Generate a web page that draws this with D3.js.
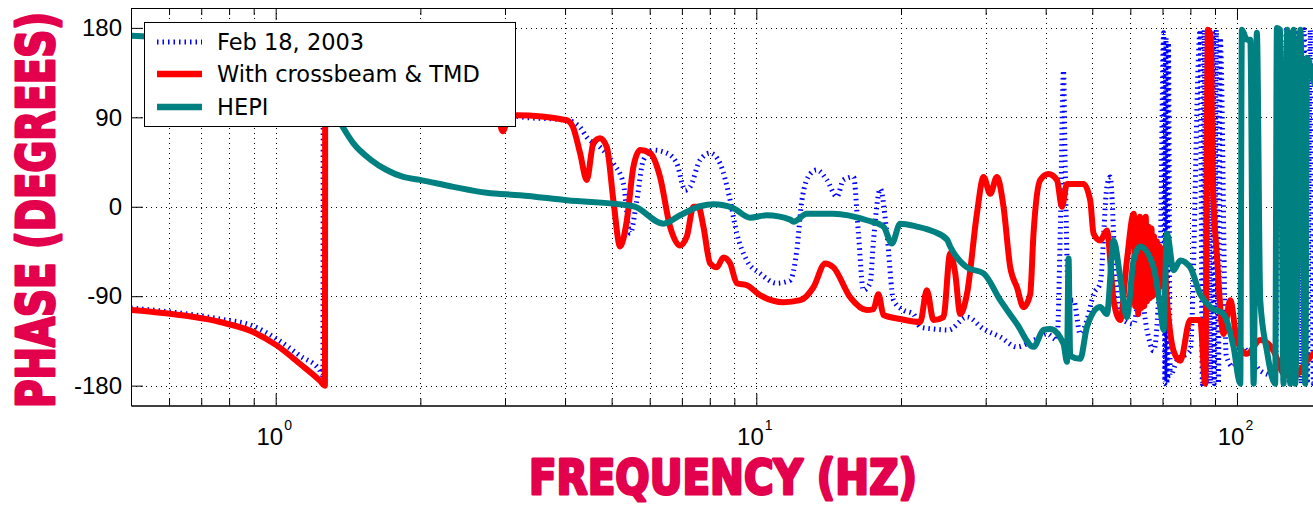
<!DOCTYPE html>
<html><head><meta charset="utf-8">
<script src="https://cdn.jsdelivr.net/npm/d3@7"></script>
<style>body{margin:0;background:#fff;} svg{display:block;}</style>
</head><body>
<svg id="chart" width="1313" height="505"></svg>
<script>
// ---- data: [frequency Hz, phase degrees] ----
const feb18 = [
[0.5,-102],[0.556,-104],[0.766,-113],[0.898,-120],[1.005,-133],[1.124,-150],[1.236,-165],[1.254,-170],[1.256,150],[1.5,135],[2.0,115],[2.5,100],[3.0,93],
[3.224,90.5],[4.033,87],[4.298,80],[4.438,70],[4.731,60],[5.043,43.5],[5.29,23],[5.463,-27],[5.641,6.5],[5.821,47],[6.107,57],[6.512,54],[6.832,43.5],
[7.111,16.6],[7.283,20],[7.638,47],[8.014,54],[8.406,43.5],[8.821,6.5],[9.108,-27],[9.555,-54],[10.18,-67],[11.03,-77],[11.76,-74],[12.14,-44],
[12.44,6.5],[12.94,33],[13.36,37],[14.02,27],[14.71,10],[15.18,27],[15.93,30],[16.31,-27],[16.70,-84],[17.25,-77],[17.53,-34],[18.11,18],
[18.69,-27],[19.29,-94],[20.24,-104],[21.23,-108],[21.93,-121],[23.37,-123],[25.11,-124],[27.43,-111],[29.70,-123],[32.17,-131],[34.85,-141],
[37.73,-134.5],[40.23,-128],[42.22,-134],[42.89,-27],[43.56,137],[43.92,40],[44.63,-94],[45.70,-94],[47.20,-128],[48.74,-114],[50.31,-88],
[51.94,-77],[53.63,20],[54.49,30],[55.81,-61],[57.17,-111],[60.94,-118],[62.92,-84],[64.97,-124],[67.06,-145],[69.25,-47],[70.37,175],
[70.8,-178],[71.2,170],[71.5,-178],[72.0,165],[72.64,-170],[75.02,-155],[79.93,-145],[83.85,178],[84.7,-178],[85.5,178],[86.3,-178],
[87.2,178],[88.0,-178],[88.9,178],[89.7,-178],[90.6,178],[91.5,-178],[92.3,170],[95.0,-150],[98.2,-161],[101.6,-140],[106.6,-150],
[111.8,-165],[120.1,-170],[123.1,178],[124.9,-178],[126.6,178],[128.5,-178],[130.3,178],[132.2,-178],[134.1,178],[136.1,-178],[138.0,178],
[140.1,-178],[142.1,178],[144.2,-178],[146.3,178],[148.4,-178],[150.5,178]
];
const withCrossbeam = [
[0.5,-104],[0.556,-106],[0.766,-116],[0.898,-126],[1.005,-139.5],[1.123,-158],[1.236,-175],[1.266,-180],[1.268,160],[1.5,140],[2.0,112],[2.5,98],
[2.9,88],[2.97,76],[3.05,90],[3.174,92],[4.033,87],[4.156,80],[4.298,54],[4.438,27],[4.581,64],[4.731,69],[4.886,60],[5.043,6],[5.207,-40],
[5.377,-14],[5.549,40],[5.731,57],[6.012,54],[6.306,30],[6.615,-20],[6.94,-39],[7.168,-30],[7.398,0],[7.577,0],[7.761,-20],[8.014,-57],
[8.275,-61],[8.541,-51],[8.821,-57],[9.108,-77],[9.555,-79],[10.18,-89],[11.39,-96],[12.34,-94],[13.15,-81],[13.91,-57],[14.47,-61],
[15.67,-91],[16.98,-104],[17.53,-103],[17.95,-88],[18.39,-109],[19.92,-113],[21.93,-116],[22.63,-84],[23.37,-114],[24.51,-111],[25.31,-47],
[25.93,-67],[26.56,-108],[27.43,-88],[28.77,-7],[29.70,30],[30.67,13],[31.66,30],[32.68,0],[33.75,-61],[34.85,-81],[35.97,-101],[37.14,-88],
[37.73,-27],[38.96,27],[40.54,33],[42.22,27],[43.24,0],[44.29,23],[47.96,23],[49.52,6],[50.31,-27],[51.94,-34],[53.63,-24],[55.37,-94],
[57.17,-114],[59.02,-54],[61.0,-7],[61.4,-100],[61.9,-12],[62.3,-108],[62.8,-10],[63.2,-102],[63.7,-12],[64.1,-100],[64.6,-10],[65.0,-95],
[65.5,-20],[65.9,-92],[66.4,-22],[66.8,-90],[67.3,-30],[67.7,-88],[68.2,-35],[68.6,-85],[69.1,-40],[69.6,-80],[70.3,-44],
[71.5,-94],[73.81,-145],[76.21,-155],[79.93,-114],[83.85,-114],[85.9,-178],[87.0,178],[88.2,172],[89.0,30],[90.87,-50],
[93.78,-128],[96.83,-94],[100,-134],[104.9,-148],[111.8,-134],[119.2,-145],[125.0,-168],[131.2,-171],[139.9,-155],[144.2,-148],[150,-145]
];
const hepi = [
[0.5,172],[0.7,168],[0.9,162],[1.1,150],[1.25,120],[1.38,80],[1.45,64],[1.58,47],[1.702,37],[1.843,30],[1.997,27],[2.342,20],[2.749,14],[3.224,11.6],
[4.033,6.5],[5.549,0.5],[6.407,-17],[6.94,-8.6],[7.638,0.5],[8.143,2.5],[8.961,-1.5],[9.707,-11],[10.51,-8.6],[11.76,-13],[11.95,-15],
[12.74,-7],[14.47,-7],[16.98,-13.6],[18.39,-20],[19.14,-37],[19.92,-17],[21.58,-20],[23.37,-25],[24.92,-33],[25.31,-40],[27.43,-61],
[29.70,-67],[32.17,-94],[34.85,-118],[37.73,-141],[39.58,-124],[40.88,-123],[43.56,-138],[44.29,-156],[44.63,-52],[44.98,-150],[47.20,-153],
[48.74,-121],[51.94,-101],[53.63,-108],[55.37,-34],[57.17,-71],[59.02,-111],[60.94,-54],[62.92,-40],[67.06,-61],[69.25,-101],[70.37,-124],
[71.50,-27],[73.81,-64],[76.21,-54],[79.93,-61],[83.85,-88],[88.0,-101],[93.78,-108],[98.38,-141],[101.6,-178],[102.4,178],[104.9,168],
[106.6,168],[108.3,-178],[110.0,175],[111.8,-94],[115.4,-145],[120.1,-178],[121.1,180],[123.1,178],[125.0,-178],[127.3,178],[129.1,-178],
[131.2,178],[132.2,-178],[135.5,178],[138.7,-178],[139.9,150],[144.2,127],[150.5,110]
];
const seriesNames = ["Feb 18, 2003", "With crossbeam & TMD", "HEPI"];
const yTicks = [-180, -90, 0, 90, 180];
const xMajorTicks = [1, 10, 100];
const xTickExponents = ["0", "1", "2"];
const xMinorTicks = [0.5,0.6,0.7,0.8,0.9,2,3,4,5,6,7,8,9,20,30,40,50,60,70,80,90];
const yTitle = "PHASE (DEGREES)";
const xTitle = "FREQUENCY (HZ)";

// ---- layout ----
const svg = d3.select("#chart");
const L = 131, R = 1321.6, T = 8, B = 405.5;
const x = d3.scaleLog().domain([0.5, 150]).range([L, R]);
const y = d3.scaleLinear().domain([-200, 200]).range([B, T]);
const titleColor = "#e3004d";

svg.append("defs").append("clipPath").attr("id", "clip")
  .append("rect").attr("x", L).attr("y", T).attr("width", R - L).attr("height", B - T);

// grid
const grid = svg.append("g").attr("stroke", "#000").attr("stroke-width", 1)
  .attr("stroke-dasharray", "1,4").attr("shape-rendering", "crispEdges");
grid.selectAll("line.v").data(xMinorTicks.concat(xMajorTicks)).join("line")
  .attr("x1", d => Math.round(x(d)) + 0.5).attr("x2", d => Math.round(x(d)) + 0.5)
  .attr("y1", T).attr("y2", B);
grid.selectAll("line.h").data(yTicks).join("line")
  .attr("x1", L).attr("x2", R)
  .attr("y1", d => Math.round(y(d)) + 0.5).attr("y2", d => Math.round(y(d)) + 0.5);

// series
const line = d3.line().curve(d3.curveMonotoneX).x(d => x(d[0])).y(d => y(d[1]));
const plot = svg.append("g").attr("clip-path", "url(#clip)").attr("fill", "none");
plot.append("path").datum(feb18).attr("d", line)
  .attr("stroke", "#0000ff").attr("stroke-width", 5).attr("stroke-dasharray", "1.5,4");
plot.append("path").datum(withCrossbeam).attr("d", line)
  .attr("stroke", "#ff0000").attr("stroke-width", 6).attr("stroke-linejoin", "round");
plot.append("path").datum(hepi).attr("d", line)
  .attr("stroke", "#008080").attr("stroke-width", 6).attr("stroke-linejoin", "round");

// axes
function styleAxis(g) {
  g.selectAll("path.domain").attr("stroke", "#000").attr("stroke-width", 1);
  g.selectAll(".tick line").attr("stroke", "#000").attr("stroke-width", 1);
}
const gb1 = svg.append("g").attr("transform", `translate(0,${B})`)
  .call(d3.axisBottom(x).tickValues(xMajorTicks).tickSizeInner(-12).tickSizeOuter(0).tickFormat(""));
const gb2 = svg.append("g").attr("transform", `translate(0,${B})`)
  .call(d3.axisBottom(x).tickValues(xMinorTicks).tickSizeInner(-7).tickSizeOuter(0).tickFormat(""));
const gt1 = svg.append("g").attr("transform", `translate(0,${T})`)
  .call(d3.axisTop(x).tickValues(xMajorTicks).tickSizeInner(-12).tickSizeOuter(0).tickFormat(""));
const gt2 = svg.append("g").attr("transform", `translate(0,${T})`)
  .call(d3.axisTop(x).tickValues(xMinorTicks).tickSizeInner(-7).tickSizeOuter(0).tickFormat(""));
const gl = svg.append("g").attr("transform", `translate(${L},0)`)
  .call(d3.axisLeft(y).tickValues(yTicks).tickSizeInner(-12).tickSizeOuter(0).tickPadding(9).tickFormat(d => String(d)));
[gb1, gb2, gt1, gt2, gl].forEach(styleAxis);
gl.selectAll("text").attr("font-family", "'Liberation Sans', Arial, sans-serif")
  .attr("font-size", 24).attr("fill", "#000");

// x tick labels 10^n
const xl = svg.append("g").attr("font-family", "'Liberation Sans', Arial, sans-serif").attr("fill", "#000");
xMajorTicks.forEach((t, i) => {
  const px = x(t);
  xl.append("text").attr("x", px + 7.5).attr("y", 445).attr("text-anchor", "end")
    .attr("font-size", 24).text("10");
  xl.append("text").attr("x", px + 8.5).attr("y", 430).attr("text-anchor", "start")
    .attr("font-size", 14).text(xTickExponents[i]);
});

// axis titles (heavy, horizontally condensed via scale)
function heavyTitle(text, tx, ty, rot, fontSize, targetLen) {
  const g = svg.append("g");
  const t = g.append("text").attr("x", 0).attr("y", 0)
    .attr("font-family", "'DejaVu Sans', sans-serif").attr("font-weight", "bold").attr("font-size", fontSize)
    .attr("fill", titleColor).attr("stroke", titleColor).attr("stroke-width", 3).attr("stroke-linejoin", "round")
    .text(text);
  const natural = t.node().getComputedTextLength();
  const sx = targetLen / natural;
  g.attr("transform", `translate(${tx},${ty}) rotate(${rot}) scale(${sx},1)`);
}
heavyTitle(xTitle, 529, 494, 0, 48, 388);
heavyTitle(yTitle, 54, 408, -90, 52, 396);

// legend
const lg = svg.append("g");
lg.append("rect").attr("x", 144.5).attr("y", 22.5).attr("width", 371).attr("height", 104)
  .attr("fill", "#fff").attr("stroke", "#000").attr("stroke-width", 1);
const legendStyles = [
  {stroke: "#0000ff", width: 5, dash: "1.5,4"},
  {stroke: "#ff0000", width: 6.5, dash: null},
  {stroke: "#008080", width: 6.5, dash: null}
];
const rowY = [42, 74, 107];
seriesNames.forEach((name, i) => {
  const s = legendStyles[i];
  lg.append("line").attr("x1", 157).attr("x2", 202).attr("y1", rowY[i]).attr("y2", rowY[i])
    .attr("stroke", s.stroke).attr("stroke-width", s.width).attr("stroke-dasharray", s.dash);
  lg.append("text").attr("x", 217).attr("y", rowY[i] + 8)
    .attr("font-family", "'DejaVu Sans', sans-serif").attr("font-size", 22.5).attr("fill", "#000")
    .text(name);
});
</script>
</body></html>
